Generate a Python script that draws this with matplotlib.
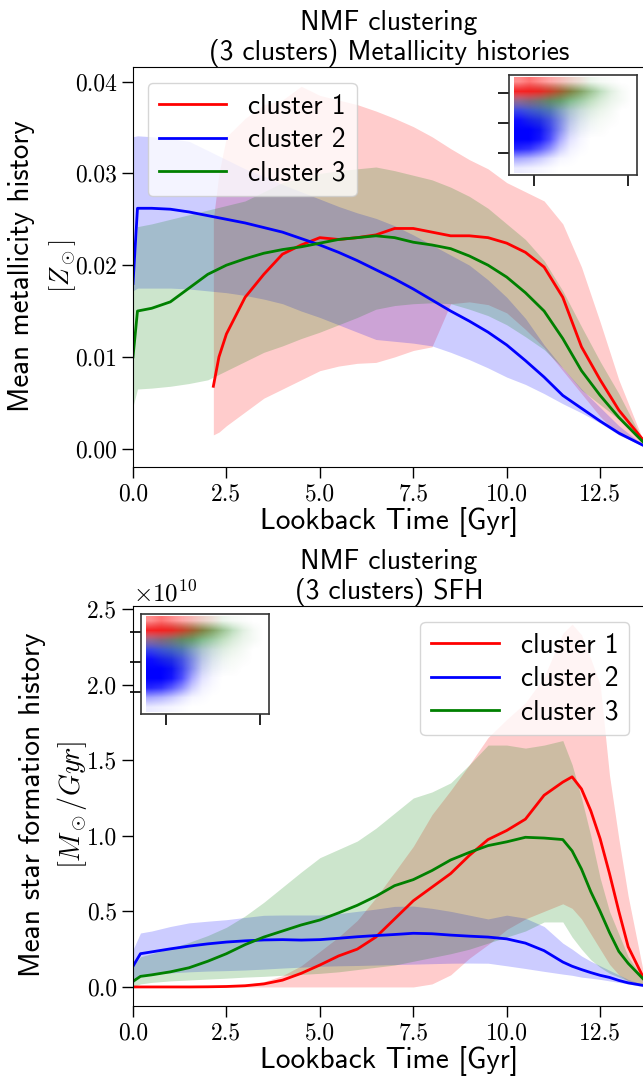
import numpy as np
import matplotlib
matplotlib.use('Agg')
import matplotlib.pyplot as plt
from matplotlib.ticker import FuncFormatter

plt.rcParams['mathtext.fontset'] = 'cm'
plt.rcParams['font.family'] = 'cmss10'
plt.rcParams['axes.unicode_minus'] = False

# ---- metallicity histories (top panel) ----
t_c1 = [2.15, 2.3, 2.5, 3.0, 3.5, 4.0, 4.5, 5.0, 5.5, 6.0, 6.5, 7.0, 7.5, 8.0, 8.5, 9.0,
        9.5, 10.0, 10.5, 11.0, 11.5, 12.0, 12.5, 13.0, 13.68]
z_c1 = [0.0068, 0.010, 0.0125, 0.0165, 0.019, 0.0212, 0.0222, 0.0230, 0.0228, 0.0230, 0.0233,
        0.0240, 0.0240, 0.0236, 0.0232, 0.0232, 0.0230, 0.0224, 0.0214, 0.0198, 0.0165, 0.0111,
        0.0075, 0.0042, 0.0008]
z_c1_hi = [0.025, 0.030, 0.034, 0.036, 0.0375, 0.038, 0.0395, 0.0385, 0.038, 0.0375, 0.0368,
           0.036, 0.0351, 0.034, 0.0327, 0.0315, 0.0305, 0.029, 0.028, 0.027, 0.0245, 0.0198,
           0.0138, 0.0075, 0.0006]
z_c1_lo = [0.0015, 0.0018, 0.0025, 0.004, 0.0055, 0.0065, 0.0075, 0.0085, 0.009, 0.0093, 0.0094,
           0.0100, 0.0107, 0.0111, 0.0158, 0.0160, 0.0157, 0.0148, 0.0130, 0.0110, 0.0085, 0.0060,
           0.0035, 0.0015, 0.0003]

t_z = [0.0, 0.12, 0.5, 1.0, 1.5, 2.0, 2.5, 3.0, 3.5, 4.0, 4.5, 5.0, 5.5, 6.0, 6.5, 7.0, 7.5,
       8.0, 8.5, 9.0, 9.5, 10.0, 10.5, 11.0, 11.5, 12.0, 12.5, 13.0, 13.68]
z_c2 = [0.0180, 0.0262, 0.0262, 0.0261, 0.0258, 0.0254, 0.0250, 0.0246, 0.0241, 0.0236, 0.0229,
        0.0222, 0.0214, 0.0205, 0.0195, 0.0185, 0.0174, 0.0162, 0.0150, 0.0139, 0.0127, 0.0113,
        0.0096, 0.0078, 0.0058, 0.0044, 0.0030, 0.0017, 0.0003]
z_c2_hi = [0.0340, 0.0341, 0.0340, 0.0338, 0.0335, 0.0325, 0.0315, 0.0305, 0.0297, 0.0288,
           0.0280, 0.0272, 0.0264, 0.0257, 0.0251, 0.0243, 0.0233, 0.0222, 0.0211, 0.0200,
           0.0184, 0.0165, 0.0142, 0.0113, 0.0088, 0.0065, 0.0045, 0.0025, 0.0003]
z_c2_lo = [0.0172, 0.0175, 0.0175, 0.0175, 0.0174, 0.0172, 0.0170, 0.0167, 0.0163, 0.0158,
           0.0150, 0.0143, 0.0135, 0.0127, 0.0119, 0.0117, 0.0115, 0.0112, 0.0105, 0.0097,
           0.0088, 0.0078, 0.0070, 0.0060, 0.0049, 0.0039, 0.0028, 0.0015, 0.0002]
z_c3 = [0.0100, 0.0150, 0.0153, 0.0160, 0.0175, 0.0190, 0.0200, 0.0207, 0.0213, 0.0217, 0.0220,
        0.0224, 0.0228, 0.0230, 0.0232, 0.0230, 0.0225, 0.0222, 0.0218, 0.0210, 0.0200, 0.0187,
        0.0170, 0.0150, 0.0120, 0.0085, 0.0058, 0.0034, 0.0006]
z_c3_hi = [0.0175, 0.0242, 0.0245, 0.0250, 0.0255, 0.0260, 0.0265, 0.0270, 0.0280, 0.0290,
           0.0295, 0.0300, 0.0303, 0.0305, 0.0307, 0.0303, 0.0298, 0.0293, 0.0285, 0.0275,
           0.0262, 0.0245, 0.0228, 0.0205, 0.0172, 0.0133, 0.0095, 0.0060, 0.0006]
z_c3_lo = [0.0046, 0.0065, 0.0066, 0.0068, 0.0071, 0.0075, 0.0085, 0.0095, 0.0105, 0.0112,
           0.0120, 0.0127, 0.0135, 0.0143, 0.0152, 0.0156, 0.0158, 0.0159, 0.0158, 0.0152,
           0.0145, 0.0135, 0.0122, 0.0108, 0.0088, 0.0064, 0.0048, 0.0032, 0.0004]

# ---- star formation histories (bottom panel), units of 1e10 Msun/Gyr ----
t_s = [0, 0.2, 0.5, 1.0, 1.5, 2.0, 2.5, 3.0, 3.5, 4.0, 4.5, 5.0, 5.5, 6.0, 6.5, 7.0, 7.5, 8.0,
       8.5, 9.0, 9.5, 10.0, 10.5, 11.0, 11.5, 11.75, 12.0, 12.25, 12.5, 12.75, 13.0, 13.25, 13.68]
s_c1 = [0, 0, 0, 0, 0, 0.001, 0.003, 0.008, 0.02, 0.045, 0.09, 0.145, 0.205, 0.25, 0.33, 0.45,
        0.57, 0.66, 0.75, 0.87, 0.975, 1.035, 1.11, 1.268, 1.355, 1.39, 1.31, 1.165, 0.98, 0.75,
        0.5, 0.266, 0.05]
s_c1_hi = [0, 0, 0, 0, 0, 0.002, 0.005, 0.015, 0.035, 0.075, 0.14, 0.235, 0.33, 0.44, 0.59, 0.76,
           0.93, 1.14, 1.30, 1.47, 1.65, 1.77, 1.88, 2.05, 2.34, 2.40, 2.33, 2.17, 2.0, 1.40, 0.98,
           0.6, 0.07]
s_c1_lo = [0, 0, 0, 0, 0, 0, 0, 0, 0, 0, 0, 0, 0, 0, 0, 0, 0, 0.02, 0.08, 0.19, 0.28, 0.38,
           0.45, 0.50, 0.55, 0.52, 0.45, 0.35, 0.25, 0.15, 0.08, 0.04, 0.01]
s_c2 = [0.137, 0.22, 0.232, 0.252, 0.27, 0.285, 0.297, 0.305, 0.311, 0.313, 0.31, 0.313, 0.322,
        0.332, 0.34, 0.347, 0.355, 0.352, 0.343, 0.336, 0.33, 0.318, 0.29, 0.24, 0.165, 0.137,
        0.115, 0.095, 0.077, 0.063, 0.043, 0.027, 0.009]
s_c2_hi = [0.247, 0.357, 0.37, 0.40, 0.424, 0.435, 0.445, 0.46, 0.474, 0.476, 0.476, 0.476, 0.485,
           0.50, 0.515, 0.533, 0.535, 0.52, 0.50, 0.475, 0.45, 0.475, 0.455, 0.40, 0.29, 0.25,
           0.205, 0.17, 0.14, 0.11, 0.08, 0.05, 0.013]
s_c2_lo = [0.026, 0.08, 0.085, 0.093, 0.1, 0.105, 0.108, 0.112, 0.118, 0.125, 0.131, 0.137, 0.14,
           0.142, 0.145, 0.148, 0.151, 0.154, 0.157, 0.158, 0.157, 0.14, 0.122, 0.103, 0.085,
           0.077, 0.065, 0.058, 0.05, 0.04, 0.03, 0.02, 0.0]
s_c3 = [0.037, 0.07, 0.08, 0.1, 0.127, 0.17, 0.22, 0.28, 0.33, 0.37, 0.41, 0.443, 0.49, 0.54, 0.6,
        0.67, 0.71, 0.77, 0.84, 0.89, 0.935, 0.96, 0.99, 0.985, 0.975, 0.9, 0.78, 0.63, 0.50,
        0.36, 0.235, 0.156, 0.046]
s_c3_hi = [0.137, 0.2, 0.22, 0.255, 0.295, 0.34, 0.395, 0.47, 0.56, 0.66, 0.76, 0.855, 0.91,
           0.965, 1.05, 1.15, 1.25, 1.29, 1.35, 1.47, 1.60, 1.60, 1.58, 1.60, 1.63, 1.47, 1.25,
           1.0, 0.72, 0.5, 0.35, 0.2, 0.046]
s_c3_lo = [0.0, 0.02, 0.03, 0.04, 0.046, 0.052, 0.058, 0.065, 0.07, 0.077, 0.083, 0.09, 0.1,
           0.115, 0.13, 0.145, 0.17, 0.195, 0.22, 0.25, 0.29, 0.33, 0.37, 0.43, 0.43, 0.33, 0.25,
           0.18, 0.13, 0.09, 0.065, 0.04, 0.013]

labels = ['cluster 1', 'cluster 2', 'cluster 3']
colors = ['r', 'b', 'g']

# ---- inset: point density of the three clusters (rows top->bottom, cols left->right) ----
dens_c1 = [[0.45, 0.55, 0.45, 0.35, 0.25, 0.15, 0.08, 0, 0, 0, 0, 0],
           [0.85, 0.85, 0.8, 0.65, 0.45, 0.25, 0.12, 0.04, 0, 0, 0, 0],
           [0.25, 0.25, 0.18, 0.1, 0.05, 0, 0, 0, 0, 0, 0, 0]] + [[0] * 12] * 7
dens_c2 = [[0] * 12,
           [0.1, 0.1, 0.1, 0.05, 0.02, 0, 0, 0, 0, 0, 0, 0],
           [0.45, 0.45, 0.4, 0.3, 0.18, 0.08, 0.04, 0, 0, 0, 0, 0],
           [0.75, 0.7, 0.65, 0.55, 0.35, 0.17, 0.08, 0.02, 0, 0, 0, 0],
           [0.95, 0.9, 0.85, 0.7, 0.45, 0.2, 0.08, 0.02, 0, 0, 0, 0],
           [1, 1, 0.95, 0.75, 0.45, 0.17, 0.06, 0.02, 0, 0, 0, 0],
           [1, 1, 0.92, 0.7, 0.35, 0.12, 0.04, 0, 0, 0, 0, 0],
           [0.85, 0.8, 0.65, 0.45, 0.2, 0.06, 0.02, 0, 0, 0, 0, 0],
           [0.35, 0.3, 0.22, 0.12, 0.04, 0.02, 0, 0, 0, 0, 0, 0],
           [0.08, 0.06, 0.04, 0.02, 0, 0, 0, 0, 0, 0, 0, 0]]
dens_c3 = [[0, 0, 0, 0, 0.05, 0.08, 0.08, 0.08, 0.04, 0.02, 0, 0],
           [0.1, 0.2, 0.35, 0.55, 0.65, 0.65, 0.55, 0.4, 0.25, 0.12, 0.04, 0],
           [0.25, 0.35, 0.45, 0.55, 0.55, 0.45, 0.35, 0.25, 0.15, 0.08, 0.04, 0],
           [0.1, 0.18, 0.25, 0.3, 0.25, 0.2, 0.15, 0.12, 0.08, 0.04, 0, 0],
           [0, 0.08, 0.12, 0.12, 0.12, 0.1, 0.08, 0.06, 0.04, 0.02, 0, 0],
           [0, 0, 0.04, 0.06, 0.06, 0.05, 0.04, 0.02, 0.02, 0, 0, 0]] + [[0] * 12] * 4

W, H = 643, 1077
fig = plt.figure(figsize=(W / 100, H / 100), dpi=100)
rend = fig.canvas.get_renderer()


def fx(px):
    return px / W


def fy(py):
    return 1 - py / H


def fit(txt, target, use_height=False):
    # scale a text so that its rendered length matches a pixel length
    bb = txt.get_window_extent(rend)
    cur = bb.height if use_height else bb.width
    txt.set_fontsize(txt.get_fontsize() * target / cur)
    return txt.get_fontsize()


def draw_panel(ax, series):
    for t, m, lo, hi, c in series:
        ax.fill_between(t, lo, hi, color=c, alpha=0.2, linewidth=0)
    for (t, m, lo, hi, c), lab in zip(series, labels):
        ax.plot(t, m, color=c, lw=2, label=lab)
    ax.set_xlim(0, 13.7)
    ax.tick_params(direction='out', length=8, width=1, labelsize=17, labelfontfamily='cmr10')
    ax.set_xticks([0, 2.5, 5.0, 7.5, 10.0, 12.5])
    ax.xaxis.set_major_formatter(FuncFormatter(lambda v, p: f'{v:.1f}'))


def draw_inset(rect):
    axi = fig.add_axes(rect)
    axi.set_xlim(0, 1)
    axi.set_ylim(0, 1)
    for dens, c in [(dens_c2, (0, 0, 1)), (dens_c3, (0, 0.5, 0)), (dens_c1, (1, 0, 0))]:
        a = np.array(dens, dtype=float)
        img = np.zeros(a.shape + (4,))
        img[..., :3] = c
        img[..., 3] = a
        axi.imshow(img, extent=[0.04, 1.0, 0.02, 0.98], aspect='auto',
                   interpolation='bilinear', origin='upper')
    axi.set_xticks([0.195, 0.93])
    axi.set_yticks([0.22, 0.52, 0.82])
    axi.set_xticklabels([])
    axi.set_yticklabels([])
    axi.tick_params(direction='out', length=8, width=1.2)
    for s in axi.spines.values():
        s.set_linewidth(1.2)
        s.set_color('#333333')
    return axi


# font sizes taken from measured text lengths in the reference
tmp = fig.text(0, 0, '(3 clusters) Metallicity histories', fontsize=20)
title_fs = fit(tmp, 362)
tmp.set_text('Lookback Time [Gyr]')
tmp.set_fontsize(20)
xlab_fs = fit(tmp, 258)
tmp.set_text('cluster 1')
tmp.set_fontsize(20)
leg_fs = fit(tmp, 98)
tmp.remove()

ax1 = fig.add_axes([fx(133), fy(467), 512 / W, 400 / H])
draw_panel(ax1,
           [(t_c1, z_c1, z_c1_lo, z_c1_hi, colors[0]),
            (t_z, z_c2, z_c2_lo, z_c2_hi, colors[1]),
            (t_z, z_c3, z_c3_lo, z_c3_hi, colors[2])])
ax1.set_ylim(-0.002, 0.0416)
ax1.set_yticks([0.0, 0.01, 0.02, 0.03, 0.04])
ax1.yaxis.set_major_formatter(FuncFormatter(lambda v, p: f'{v:.2f}'))
ax1.legend(loc='upper left', bbox_to_anchor=(fx(148), fy(83)), bbox_transform=fig.transFigure,
           borderaxespad=0, fontsize=leg_fs, handlelength=2.45, labelspacing=0.3)

ax2 = fig.add_axes([fx(133), fy(1006), 512 / W, 400 / H])
sc = 1e10
draw_panel(ax2,
           [(t_s, np.array(s_c1) * sc, np.array(s_c1_lo) * sc, np.array(s_c1_hi) * sc, colors[0]),
            (t_s, np.array(s_c2) * sc, np.array(s_c2_lo) * sc, np.array(s_c2_hi) * sc, colors[1]),
            (t_s, np.array(s_c3) * sc, np.array(s_c3_lo) * sc, np.array(s_c3_hi) * sc, colors[2])])
ax2.set_ylim(-0.126e10, 2.52e10)
ax2.set_yticks(np.array([0.0, 0.5, 1.0, 1.5, 2.0, 2.5]) * sc)
ax2.yaxis.set_major_formatter(FuncFormatter(lambda v, p: f'{v / sc:.1f}'))
ax2.text(0.0, 1.0, r'$\times10^{10}$', transform=ax2.transAxes, ha='left', va='bottom',
         fontsize=18)
ax2.legend(loc='upper right', bbox_to_anchor=(fx(629), fy(622)), bbox_transform=fig.transFigure,
           borderaxespad=0, fontsize=leg_fs, handlelength=2.45, labelspacing=0.3)

for ax, title in [(ax1, 'NMF clustering\n(3 clusters) Metallicity histories'),
                  (ax2, 'NMF clustering\n(3 clusters) SFH')]:
    ax.set_title(title, fontsize=title_fs, pad=3, linespacing=1.2)
    ax.set_xlabel('Lookback Time [Gyr]', fontsize=xlab_fs, labelpad=1)

# y labels: two lines, each placed and sized as in the reference
ylab = [('Mean metallicity history', 22, 266.5, 293),
        (r'$[Z_\odot]$', 63, 266.5, 53),
        ('Mean star formation history', 33, 805, 344),
        (r'$[M_\odot/Gyr]$', 72, 805, 128)]
for s, xc, yc, length in ylab:
    t = fig.text(fx(xc), fy(yc), s, rotation=90, ha='center', va='center', fontsize=20)
    fit(t, length, use_height=True)

draw_inset([fx(509), fy(175), 128 / W, 100 / H])
draw_inset([fx(141), fy(714), 128 / W, 100 / H])

fig.savefig('out.png', dpi=100)
